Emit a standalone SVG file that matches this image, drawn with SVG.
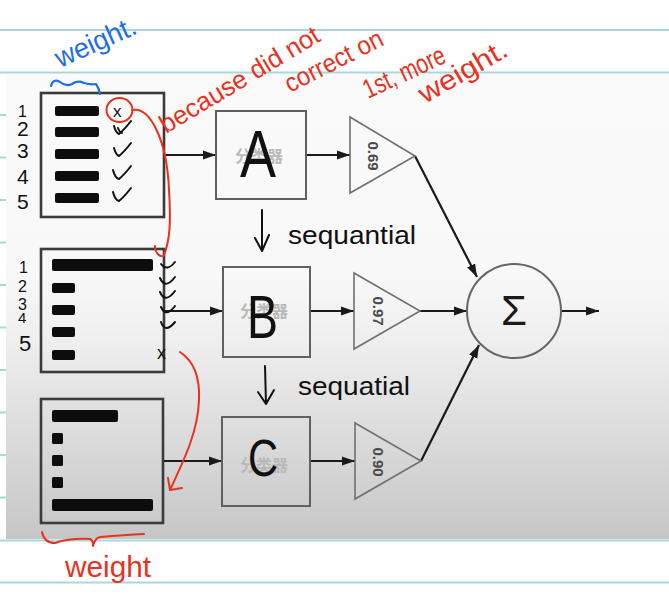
<svg xmlns="http://www.w3.org/2000/svg" width="669" height="597" viewBox="0 0 669 597">
<defs>
<linearGradient id="bg" x1="0" y1="0" x2="0" y2="1">
<stop offset="0" stop-color="#fafafa"/>
<stop offset="0.44" stop-color="#f8f8f8"/>
<stop offset="0.58" stop-color="#eeeeee"/>
<stop offset="1" stop-color="#c6c6c6"/>
</linearGradient>
<marker id="ah" markerUnits="userSpaceOnUse" markerWidth="14" markerHeight="10" refX="13" refY="5" orient="auto">
<path d="M0,0.5 L13,5 L0,9.5 Z" fill="#1a1a1a"/>
</marker>
<filter id="soft" x="-5%" y="-5%" width="110%" height="110%"><feGaussianBlur stdDeviation="0.6"/></filter>
</defs>
<style>
.nl{stroke:#a9d7db;stroke-width:2}
.frame{fill:none;stroke:#3a3a3a;stroke-width:2.6}
.bar{fill:#0d0d0d}
.cls{fill:none;stroke:#606060;stroke-width:2}
.tri{fill:none;stroke:#707070;stroke-width:1.6}
.conn{fill:none;stroke:#1a1a1a;stroke-width:2.2}
.cn{font-family:"Noto Sans CJK SC","Liberation Sans",sans-serif;font-size:16px;font-weight:bold;fill:#b9b9b9}
.gain{font-family:"Liberation Sans",sans-serif;font-size:15px;fill:#4a4a4a;font-weight:bold}
.hand{font-family:"Liberation Sans",sans-serif;fill:#111}
.red{font-family:"Liberation Sans",sans-serif;fill:#e8321e}
.blue{font-family:"Liberation Sans",sans-serif;fill:#1e6fe6}
.ink{fill:none;stroke:#111;stroke-width:2;stroke-linecap:round;stroke-linejoin:round}
.rink{fill:none;stroke:#e8321e;stroke-width:2;stroke-linecap:round;stroke-linejoin:round}
.bink{fill:none;stroke:#1e6fe6;stroke-width:2.2;stroke-linecap:round;stroke-linejoin:round}
</style>
<rect width="669" height="597" fill="#ffffff"/>
<g id="notebook-lines">
<line class="nl" x1="0" y1="30" x2="669" y2="30"/>
<line class="nl" x1="0" y1="72.5" x2="669" y2="72.5"/>
<line class="nl" x1="0" y1="115" x2="669" y2="115"/>
<line class="nl" x1="0" y1="157.5" x2="669" y2="157.5"/>
<line class="nl" x1="0" y1="200" x2="669" y2="200"/>
<line class="nl" x1="0" y1="242.5" x2="669" y2="242.5"/>
<line class="nl" x1="0" y1="285" x2="669" y2="285"/>
<line class="nl" x1="0" y1="327.5" x2="669" y2="327.5"/>
<line class="nl" x1="0" y1="370" x2="669" y2="370"/>
<line class="nl" x1="0" y1="412.5" x2="669" y2="412.5"/>
<line class="nl" x1="0" y1="455" x2="669" y2="455"/>
<line class="nl" x1="0" y1="497.5" x2="669" y2="497.5"/>
<line class="nl" x1="0" y1="582.5" x2="669" y2="582.5"/>
</g>
<rect id="screenshot" x="6" y="74" width="663" height="465" fill="url(#bg)"/>
<line class="nl" x1="0" y1="540.5" x2="669" y2="540.5"/>

<g id="connectors">
<line class="conn" x1="164" y1="155" x2="216" y2="155" marker-end="url(#ah)"/>
<line class="conn" x1="306" y1="155" x2="350" y2="155" marker-end="url(#ah)"/>
<line class="conn" x1="164" y1="311" x2="223" y2="311" marker-end="url(#ah)"/>
<line class="conn" x1="310" y1="311" x2="354" y2="311" marker-end="url(#ah)"/>
<line class="conn" x1="163" y1="461" x2="222" y2="461" marker-end="url(#ah)"/>
<line class="conn" x1="310" y1="461" x2="355" y2="461" marker-end="url(#ah)"/>
<line class="conn" x1="415" y1="156" x2="477" y2="277" marker-end="url(#ah)"/>
<line class="conn" x1="420" y1="311" x2="467" y2="311" marker-end="url(#ah)"/>
<line class="conn" x1="421" y1="461" x2="479" y2="345" marker-end="url(#ah)"/>
<line class="conn" x1="562" y1="311" x2="599" y2="311" marker-end="url(#ah)"/>
</g>

<g id="data1" filter="url(#soft)">
<rect class="frame" x="41" y="93" width="123" height="124"/>
<rect class="bar" x="55" y="106" width="44" height="10" rx="2"/>
<rect class="bar" x="55" y="127" width="44" height="10" rx="2"/>
<rect class="bar" x="55" y="149" width="44" height="10" rx="2"/>
<rect class="bar" x="55" y="171" width="44" height="10" rx="2"/>
<rect class="bar" x="55" y="193" width="44" height="10" rx="2"/>
</g>
<g id="data2" filter="url(#soft)">
<rect class="frame" x="41" y="249" width="123" height="123"/>
<rect class="bar" x="52" y="259" width="101" height="12" rx="2"/>
<rect class="bar" x="52" y="283" width="23" height="10" rx="2"/>
<rect class="bar" x="52" y="305" width="23" height="10" rx="2"/>
<rect class="bar" x="52" y="327" width="23" height="10" rx="2"/>
<rect class="bar" x="52" y="350" width="23" height="10" rx="2"/>
</g>
<g id="data3" filter="url(#soft)">
<rect class="frame" x="41" y="399" width="122" height="124"/>
<rect class="bar" x="52" y="410" width="66" height="12" rx="2"/>
<rect class="bar" x="52" y="433" width="11" height="11" rx="1.5"/>
<rect class="bar" x="52" y="455" width="11" height="11" rx="1.5"/>
<rect class="bar" x="52" y="477" width="11" height="11" rx="1.5"/>
<rect class="bar" x="52" y="499" width="101" height="12" rx="2"/>
</g>

<g id="classifierA">
<rect class="cls" x="216" y="111" width="90" height="88"/>
<text class="cn" x="259" y="162" text-anchor="middle">分类器</text>
<text class="hand" x="240" y="177" font-size="66" textLength="36" lengthAdjust="spacingAndGlyphs">A</text>
</g>
<g id="classifierB">
<rect class="cls" x="223" y="267" width="87" height="90"/>
<text class="cn" x="264" y="317" text-anchor="middle">分类器</text>
<text class="hand" x="247" y="338" font-size="62" textLength="31" lengthAdjust="spacingAndGlyphs">B</text>
</g>
<g id="classifierC">
<rect class="cls" x="222" y="417" width="88" height="89"/>
<text class="cn" x="264" y="471" text-anchor="middle">分类器</text>
<text class="hand" x="248" y="476" font-size="52" textLength="30" lengthAdjust="spacingAndGlyphs">C</text>
</g>

<g id="weightA">
<polygon class="tri" points="350,117 415,156 350,193"/>
<text class="gain" transform="translate(373,156) rotate(90)" text-anchor="middle" dy="5">0.69</text>
</g>
<g id="weightB">
<polygon class="tri" points="354,273 420,311 354,349"/>
<text class="gain" transform="translate(378,311) rotate(90)" text-anchor="middle" dy="5">0.97</text>
</g>
<g id="weightC">
<polygon class="tri" points="355,423 421,461 355,499"/>
<text class="gain" transform="translate(378,462) rotate(90)" text-anchor="middle" dy="5">0.90</text>
</g>

<g id="sum">
<circle cx="514" cy="311" r="47" fill="none" stroke="#666" stroke-width="2"/>
<text x="514" y="325" font-family="Liberation Sans, sans-serif" font-size="42" text-anchor="middle" fill="#1a1a1a">Σ</text>
</g>

<g id="annotations">
<g class="hand" font-size="21">
<text x="18" y="117" font-size="16">1</text>
<text x="17" y="136">2</text>
<text x="17" y="158">3</text>
<text x="17" y="184">4</text>
<text x="17" y="209">5</text>
<text x="19" y="273" font-size="16">1</text>
<text x="18" y="292" font-size="16">2</text>
<text x="18" y="310" font-size="16">3</text>
<text x="18" y="323" font-size="15">4</text>
<text x="19" y="351" font-size="22">5</text>
</g>
<path class="ink" d="M114,126 Q116,133 119,134 Q124,130 131,121"/>
<path class="ink" d="M118,128 Q120,133 122,133"/>
<path class="ink" d="M114,148 Q116,155 119,156 Q124,152 131,143"/>
<path class="ink" d="M113,170 Q115,178 119,179 Q124,175 131,166"/>
<path class="ink" d="M113,192 Q115,200 119,201 Q124,197 131,188"/>
<text class="hand" x="113" y="117" font-size="17">x</text>
<path class="ink" d="M161,264 Q167,272 175,262"/>
<path class="ink" d="M160,278 Q165,290 175,277"/>
<path class="ink" d="M160,292 Q165,304 175,291"/>
<path class="ink" d="M161,307 Q166,318 175,306"/>
<path class="ink" d="M161,322 Q165,334 175,322"/>
<text class="hand" x="157" y="359" font-size="18">x</text>
<path class="ink" d="M262,210 L262,251 M255,238 L262,251 L269,235"/>
<text class="hand" x="288" y="244" font-size="26" textLength="128" lengthAdjust="spacingAndGlyphs">sequantial</text>
<path class="ink" d="M265,366 L266,404 M258,392 L266,404 L274,390"/>
<text class="hand" x="298" y="395" font-size="26" textLength="112" lengthAdjust="spacingAndGlyphs">sequatial</text>
<text class="blue" x="60" y="68" font-size="28" transform="rotate(-24 60 68)" textLength="86" lengthAdjust="spacingAndGlyphs">weight.</text>
<path class="bink" d="M51,86 Q53,78 60,82 Q66,87 72,84 Q78,80 84,83 Q91,85 96,84 Q99,88 100,94"/>
<ellipse cx="119.5" cy="110" rx="13" ry="12" class="rink"/>
<path class="rink" d="M132,110 C150,106 167,140 169,190 C171,222 170,240 164,255 C161,259 154,252 155,246"/>
<path class="rink" d="M180,352 C195,362 200,380 199,400 C198,430 186,456 170,490 M168,478 L170,490 L182,488"/>
<text class="red" x="166" y="134" font-size="26" transform="rotate(-31 166 134)" textLength="182" lengthAdjust="spacingAndGlyphs">because did not</text>
<text class="red" x="290" y="93" font-size="26" transform="rotate(-27 290 93)" textLength="107" lengthAdjust="spacingAndGlyphs">correct on</text>
<text class="red" x="368" y="99" font-size="27" transform="rotate(-25 368 99)" textLength="88" lengthAdjust="spacingAndGlyphs">1st, more</text>
<text class="red" x="425" y="104" font-size="28" transform="rotate(-30 425 104)" textLength="98" lengthAdjust="spacingAndGlyphs">weight.</text>
<path class="rink" d="M42,532 Q44,543 55,543 Q70,538 90,539 Q93,540 93,546 Q95,538 100,537 Q125,535 144,534"/>
<text class="red" x="65" y="577" font-size="30" textLength="86" lengthAdjust="spacingAndGlyphs">weight</text>
</g>
</svg>
